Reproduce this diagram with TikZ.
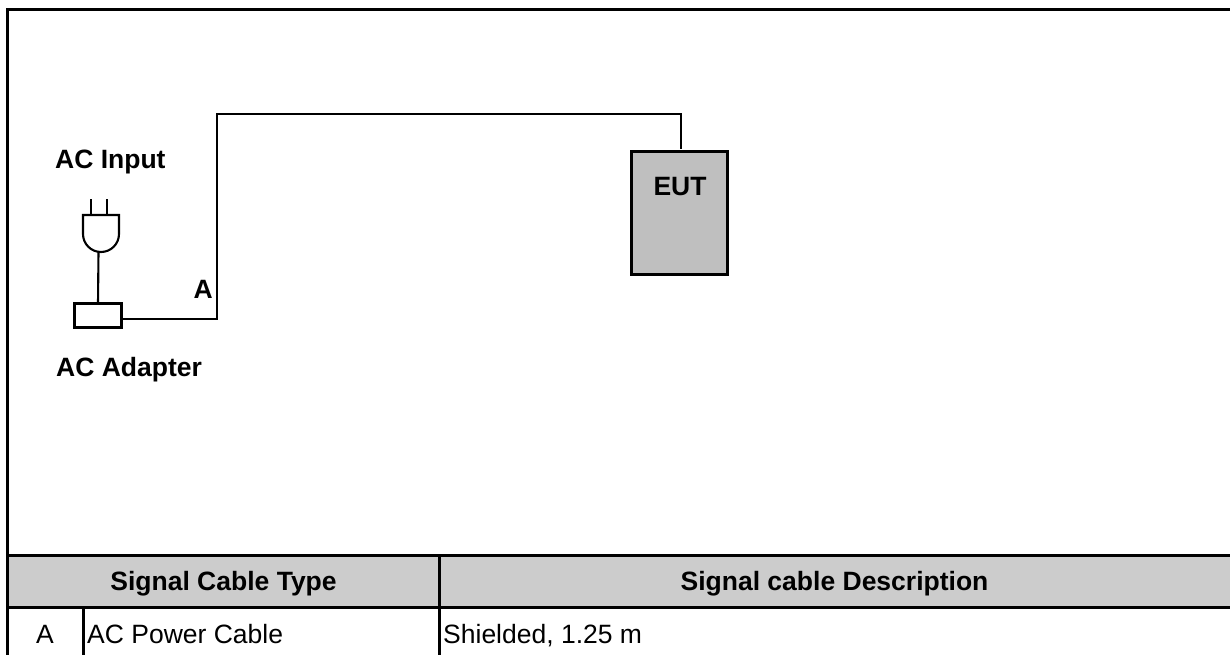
\documentclass[tikz,border=0pt]{standalone}
\usepackage{fontspec}
\setmainfont{Liberation Sans}
\usetikzlibrary{arrows.meta}
\tikzset{
  frameline/.style={line width=3pt},
  wire/.style={line width=2.1pt},
  boxline/.style={draw,line width=2.1pt,inner sep=0pt,outer sep=0pt},
  titlelabel/.style={font=\fontsize{26.5}{30}\selectfont\bfseries,inner sep=0pt},
  celltext/.style={font=\fontsize{26.5}{30}\selectfont,inner sep=0pt,anchor=base west},
  headcell/.style={fill=headgray,inner sep=0pt,text height=22pt,text depth=4pt,font=\fontsize{26.5}{30}\selectfont\bfseries},
}
\definecolor{headgray}{HTML}{CCCCCC}
\definecolor{eutgray}{HTML}{BFBFBF}
\begin{document}
\begin{tikzpicture}[x=1pt,y=-1pt,line cap=butt,line join=miter]
\useasboundingbox (0,0) rectangle (1230,655);
\coordinate (cornerA) at (217,319);
\coordinate (cornerB) at (217,114);
\coordinate (cornerC) at (681,114);
\coordinate (plugbottom) at (98.5,252);
% header row of the table
\node[headcell,minimum width=431pt,minimum height=52pt] (headtype) at (223.5,581) {Signal Cable Type};
\node[headcell,minimum width=791pt,minimum height=52pt] (headdesc) at (834.5,581) {Signal cable Description};
% outer frame and table lines
\draw[frameline] (7.5,655) -- (7.5,9.5) -- (1230,9.5);
\draw[frameline] (7.5,555) -- (1230,555);
\draw[frameline] (7.5,607.5) -- (1230,607.5);
\draw[frameline] (439,555) -- (439,655);
\draw[frameline] (83,607.5) -- (83,655);
% table text
\node[celltext,anchor=base] (cellid) at (45,643) {A};
\node[celltext] (cellname) at (87,643) {AC Power Cable};
\node[celltext] (celldesc) at (443,643) {Shielded, 1.25 m};
% plug
\draw[wire] (91,199) -- (91,215);
\draw[wire] (107,199) -- (107,215);
\draw[wire] (83,215) -- (119,215) -- (119,234) arc (0:180:18) -- cycle;
% adapter and eut
\node[boxline,minimum width=47pt,minimum height=24pt] (adapter) at (98,315.5) {};
\node[boxline,fill=eutgray,minimum width=96pt,minimum height=123pt] (eut) at (679.5,213) {};
\node[titlelabel,anchor=base] (eutlabel) at (680,195) {EUT};
% cables
\draw[wire] (plugbottom) -- (adapter.north);
\draw[wire,shorten >=2pt] ([yshift=-3.5pt]adapter.east) -- (cornerA) -- (cornerB) -- (cornerC) -- ([xshift=1.5pt]eut.north);
% labels
\node[titlelabel,anchor=base west] (inputlabel) at (55,168) {AC Input};
\node[titlelabel,anchor=base west] (adapterlabel) at (56,376) {AC Adapter};
\node[titlelabel,anchor=base east] (cablelabel) at (213,298) {A};
\end{tikzpicture}
\end{document}
